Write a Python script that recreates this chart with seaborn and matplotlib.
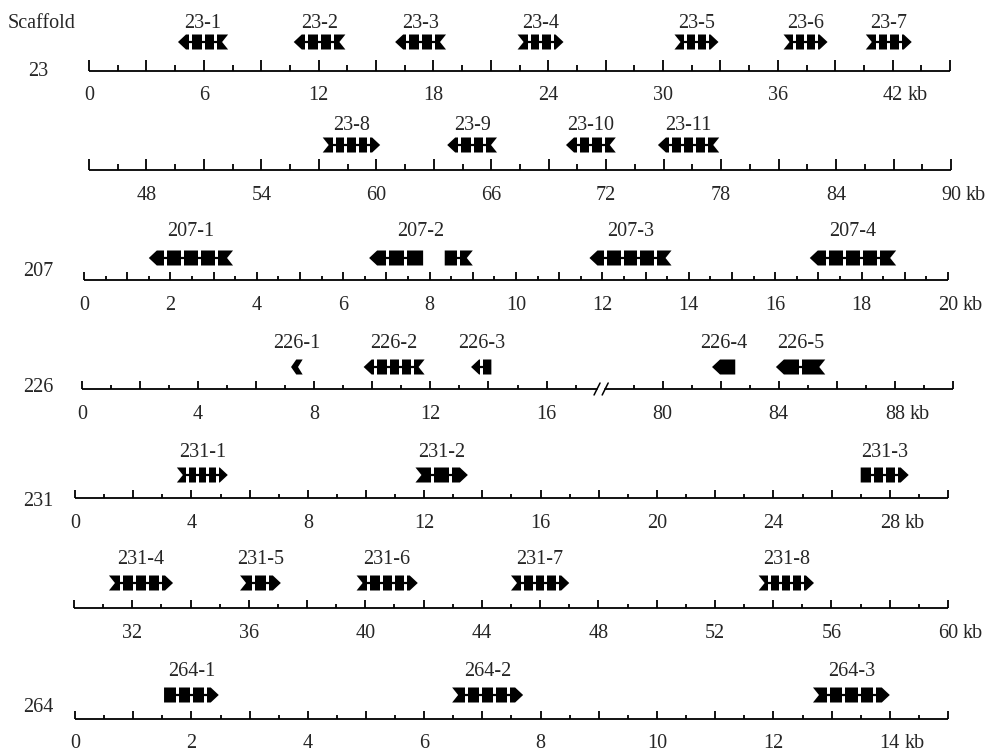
import numpy as np
import pandas as pd
import matplotlib
matplotlib.use("Agg")
import matplotlib.pyplot as plt
import seaborn as sns

# one row of the figure per track
track_ids = ["23a", "23b", "207", "226", "231a", "231b", "264"]
track_scaffold = ["23", "", "207", "226", "231", "", "264"]
track_min = [0, 45, 0, 0, 0, 30, 0]
track_max = [45, 90, 20, 90, 30, 60, 15]
track_tick_step = [1.5, 1.5, 0.5, 1, 1, 1, 0.5]
track_tick_labels = [
    [0, 6, 12, 18, 24, 30, 36, 42],
    [48, 54, 60, 66, 72, 78, 84, 90],
    [0, 2, 4, 6, 8, 10, 12, 14, 16, 18, 20],
    [0, 4, 8, 12, 16, 80, 84, 88],
    [0, 4, 8, 12, 16, 20, 24, 28],
    [32, 36, 40, 44, 48, 52, 56, 60],
    [0, 2, 4, 6, 8, 10, 12, 14],
]
# scaffold 226 is cut between 18 and 78 kb
cut_from, cut_to = 18, 78

gene_name = ["23-1", "23-2", "23-3", "23-4", "23-5", "23-6", "23-7",
             "23-8", "23-9", "23-10", "23-11",
             "207-1", "207-2", "207-2", "207-3", "207-4",
             "226-1", "226-2", "226-3", "226-4", "226-5",
             "231-1", "231-2", "231-3",
             "231-4", "231-5", "231-6", "231-7", "231-8",
             "264-1", "264-2", "264-3"]
gene_track = ["23a"] * 7 + ["23b"] * 4 + ["207"] * 5 + ["226"] * 5 + \
             ["231a"] * 3 + ["231b"] * 5 + ["264"] * 3
gene_start = [4.65, 10.7, 16.0, 22.4, 30.6, 36.3, 40.6,
              57.2, 63.7, 69.9, 74.7,
              1.5, 6.6, 8.35, 11.7, 16.8,
              7.2, 9.7, 13.4, 81.7, 83.9,
              3.5, 11.7, 27.0,
              31.2, 35.7, 39.7, 45.0, 53.5,
              1.53, 6.48, 12.68]
gene_end = [7.27, 13.4, 18.66, 24.8, 32.9, 38.6, 43.0,
            60.2, 66.3, 72.5, 77.9,
            3.45, 7.85, 9.0, 13.6, 18.8,
            7.6, 11.8, 14.1, 82.5, 85.6,
            5.25, 13.5, 28.65,
            33.4, 37.1, 41.8, 47.0, 55.4,
            2.47, 7.7, 14.0]
gene_strand = ["-", "-", "-", "+", "+", "+", "+",
               "+", "-", "-", "-",
               "-", "-", "-", "-", "-",
               "-", "-", "-", "-", "-",
               "+", "+", "+",
               "+", "+", "+", "+", "+",
               "+", "+", "+"]
gene_introns = [3, 3, 3, 3, 3, 3, 3,
                4, 3, 3, 4,
                4, 2, 1, 4, 4,
                0, 4, 1, 0, 1,
                4, 2, 3,
                4, 2, 4, 4, 4,
                3, 4, 4]
gene_head = [True] * 13 + [False] + [True] * 18
gene_notch = [True] * 12 + [False, True, True, True,
                            True, True, False, False, True,
                            True, True, False,
                            True, True, True, True, True,
                            False, True, True]

genes = pd.DataFrame({"name": gene_name, "track": gene_track, "start": gene_start,
                      "end": gene_end, "strand": gene_strand, "introns": gene_introns,
                      "head": gene_head, "notch": gene_notch})

# layout in pixels
W, H = 991, 753
axis_y = [71, 170, 280, 389, 498, 608, 719]
x0_px = [89, 89, 84, 82, 75, 74, 75]
x1_px = [950, 951, 948, 953, 948, 948, 948]
glyph_dy = [-29, -25, -22, -22, -23, -25, -24]
label_dy = [-47, -45, -48, -46, -46, -49, -47]
scaffold_y = [71, 0, 272, 387, 502, 0, 708]

sns.set_theme(style="white")
plt.rcParams["font.family"] = ["Liberation Serif", "DejaVu Serif"]
FS = 14.5

fig = plt.figure(figsize=(W / 100, H / 100), dpi=100)
fig.text(42 / W, 1 - 23 / H, "Scaffold", ha="center", va="center", fontsize=FS)


def to_u(tid, kb):
    kb = np.asarray(kb, dtype=float)
    if tid == "226":
        return np.where(kb > cut_from + 1, kb - (cut_to - cut_from), kb)
    return kb


for i, tid in enumerate(track_ids):
    ay = axis_y[i]
    ax = fig.add_axes([x0_px[i] / W, 1 - (ay + 40) / H, (x1_px[i] - x0_px[i]) / W, 100 / H])
    umin = track_min[i]
    umax = track_max[i] if tid != "226" else track_max[i] - (cut_to - cut_from)
    ax.set_xlim(umin, umax)
    ax.set_ylim(40, -60)
    ax.axis("off")
    k = (umax - umin) / (x1_px[i] - x0_px[i])  # kb per pixel
    big = 11 if i < 2 else 8
    small = 6 if i < 2 else 4

    # baseline
    if tid == "226":
        ua, ub = 17.74, 18.02
        sns.lineplot(x=[umin, ua], y=[0, 0], ax=ax, color="black", lw=1.3)
        sns.lineplot(x=[ub, umax], y=[0, 0], ax=ax, color="black", lw=1.3)
        for u in (ua, ub):
            ax.plot([u - 3 * k, u + 3 * k], [6, -6], color="black", lw=1.1, clip_on=False)
    else:
        sns.lineplot(x=[umin, umax], y=[0, 0], ax=ax, color="black", lw=1.3)

    # ticks
    step = track_tick_step[i]
    ticks = np.arange(track_min[i], track_max[i] + step / 2, step)
    for t in ticks:
        if tid == "226" and cut_from - 1 < t < cut_to + 1:
            continue
        major = abs(((t - track_min[i]) / step) % 2) < 1e-6
        u = float(to_u(tid, t))
        ax.plot([u, u], [0, -(big if major else small)], color="black", lw=1.3,
                solid_capstyle="butt", clip_on=False)

    labs = track_tick_labels[i]
    for j, v in enumerate(labs):
        u = float(to_u(tid, v))
        ax.text(u, 25, str(v), ha="center", va="center", fontsize=FS)
        if j == len(labs) - 1:
            off = len(str(v)) * 0.25 * FS + 0.25 * FS
            ax.annotate("kb", xy=(u, 25), xytext=(off, 0), textcoords="offset points",
                        ha="left", va="center", fontsize=FS)

    if track_scaffold[i]:
        fig.text(38 / W, 1 - scaffold_y[i] / H, track_scaffold[i], ha="center",
                 va="center", fontsize=FS)

    # genes
    sub = genes[genes["track"] == tid]
    yc = glyph_dy[i]
    h = 7.5
    for _, g in sub.iterrows():
        s, e = float(to_u(tid, g["start"])), float(to_u(tid, g["end"]))
        length = e - s
        head = min(8 * k, 0.45 * length) if g["head"] else 0
        notch = min(6 * k, 0.4 * length) if g["notch"] else 0
        if g["strand"] == "+":
            xs = [s, e - head, e, e - head, s, s + notch]
            ys = [yc - h, yc - h, yc, yc + h, yc + h, yc]
        else:
            xs = [s, s + head, e, e - notch, e, s + head]
            ys = [yc, yc - h, yc - h, yc, yc + h, yc + h]
        ax.fill(xs, ys, color="black", lw=0, clip_on=False, zorder=3)
        n = g["introns"]
        gap = 3 * k
        for m in range(1, n + 1):
            c = s + length * m / (n + 1)
            ax.fill([c - gap / 2, c + gap / 2, c + gap / 2, c - gap / 2],
                    [yc - h - 1, yc - h - 1, yc + h + 1, yc + h + 1],
                    color="white", lw=0, clip_on=False, zorder=4)
            ax.plot([c - gap / 2 - k, c + gap / 2 + k], [yc, yc], color="black",
                    lw=1.6, clip_on=False, zorder=5, solid_capstyle="butt")

    for name, grp in sub.groupby("name", sort=False):
        us = to_u(tid, pd.concat([grp["start"], grp["end"]]))
        ax.text((us.min() + us.max()) / 2, label_dy[i], name, ha="center",
                va="center", fontsize=FS)

fig.savefig("out.png", dpi=100, facecolor="white")
